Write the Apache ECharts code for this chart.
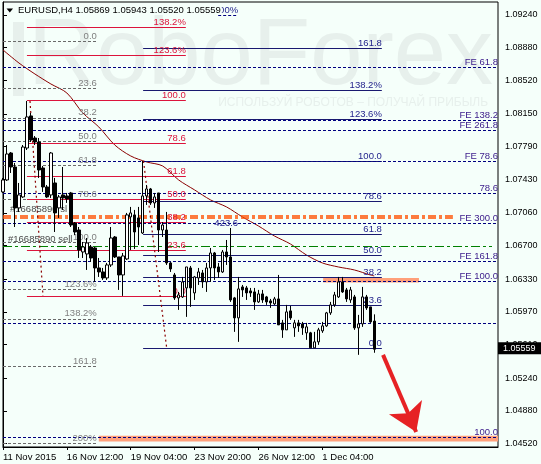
<!DOCTYPE html>
<html><head><meta charset="utf-8">
<script src="https://cdn.jsdelivr.net/npm/echarts@6/dist/echarts.min.js"></script>
<style>html,body{margin:0;padding:0;background:#f5fffa}#c{width:541px;height:464px}</style>
</head><body><div id="c"></div>
<script>
// ---------- data ----------
const xTickLabels = ['11 Nov 2015','16 Nov 12:00','19 Nov 04:00','23 Nov 20:00','26 Nov 12:00','1 Dec 04:00'];
const xTickIndex = [0,16,32,48,64,80];
const yTickValues = [1.09240,1.08880,1.08520,1.08150,1.07790,1.07430,1.07060,1.06700,1.06330,1.05970,1.05610,1.05240,1.04880,1.04520];

const opens = [1.07291,1.07423,1.07720,1.07566,1.07115,1.07236,1.07775,1.08128,1.07885,1.07841,
1.07555,1.07346,1.07258,1.07390,1.07115,1.07258,1.07247,1.07280,1.06949,1.06872,
1.06630,1.06608,1.06685,1.06674,1.06454,1.06410,1.06344,1.06487,1.06795,1.06575,
1.06377,1.06553,1.07016,1.07038,1.07005,1.06839,1.07247,1.07324,1.07170,1.07280,
1.06872,1.06872,1.06509,1.06377,1.06124,1.06135,1.06234,1.06454,1.06179,1.06344,
1.06399,1.06300,1.06454,1.06619,1.06465,1.06410,1.06630,1.06575,1.06124,1.05904,
1.06245,1.06234,1.06201,1.06190,1.06080,1.06168,1.06135,1.06091,1.06058,1.06113,
1.05849,1.05772,1.05981,1.05794,1.05849,1.05838,1.05739,1.05739,1.05574,1.05640,
1.05761,1.05816,1.05959,1.06047,1.06135,1.06300,1.06212,1.06102,1.06135,1.05794,
1.05838,1.06135,1.06025,1.05869];
const closes = [1.07423,1.07709,1.07566,1.07115,1.07258,1.07786,1.08117,1.07863,1.07841,1.07533,
1.07346,1.07236,1.07720,1.07060,1.07236,1.07225,1.07214,1.06927,1.06850,1.06652,
1.06685,1.06729,1.06564,1.06454,1.06410,1.06344,1.06487,1.06784,1.06575,1.06377,
1.06586,1.07038,1.07060,1.06850,1.06905,1.07247,1.07324,1.07170,1.07236,1.06872,
1.06927,1.06509,1.06443,1.06124,1.06157,1.06300,1.06465,1.06234,1.06355,1.06410,
1.06300,1.06454,1.06619,1.06454,1.06410,1.06630,1.06575,1.06102,1.05904,1.06223,
1.06212,1.06179,1.06179,1.06080,1.06168,1.06102,1.06080,1.06069,1.06113,1.05827,
1.05772,1.05970,1.05904,1.05849,1.05816,1.05794,1.05805,1.05574,1.05640,1.05772,
1.05816,1.05959,1.06047,1.06157,1.06300,1.06190,1.06113,1.06212,1.05794,1.05838,
1.06135,1.06014,1.05860,1.05559];
const lows = [1.07280,1.07412,1.07500,1.06905,1.07071,1.07225,1.07753,1.07841,1.07808,1.07445,
1.07291,1.07225,1.07225,1.06850,1.07005,1.07093,1.07170,1.06905,1.06817,1.06564,
1.06564,1.06432,1.06520,1.06300,1.06355,1.06322,1.06322,1.06465,1.06564,1.06212,
1.06146,1.06542,1.06652,1.06663,1.06707,1.06828,1.07148,1.07148,1.07115,1.06630,
1.06795,1.06487,1.06410,1.06102,1.05992,1.06124,1.05915,1.06025,1.06102,1.06267,
1.06234,1.06190,1.06300,1.06322,1.06344,1.06399,1.06487,1.06080,1.05750,1.05640,
1.06135,1.06102,1.06135,1.05992,1.06069,1.06069,1.06047,1.06014,1.06047,1.05827,
1.05684,1.05772,1.05882,1.05695,1.05750,1.05717,1.05662,1.05574,1.05574,1.05607,
1.05739,1.05805,1.05937,1.06025,1.06124,1.06179,1.06080,1.06069,1.05772,1.05497,
1.05805,1.05992,1.05849,1.05520];
const highs = [1.07445,1.07808,1.07731,1.07610,1.07390,1.07808,1.08293,1.08161,1.07907,1.07885,
1.07577,1.07368,1.07731,1.07445,1.07258,1.07566,1.07280,1.07291,1.06960,1.06905,
1.06740,1.06784,1.06707,1.06685,1.06564,1.06454,1.06509,1.06905,1.06806,1.06575,
1.06619,1.07060,1.07126,1.07093,1.07126,1.07632,1.07368,1.07335,1.07280,1.07280,
1.06960,1.07071,1.06520,1.06399,1.06190,1.06355,1.06465,1.06476,1.06366,1.06454,
1.06432,1.06509,1.06674,1.06630,1.06509,1.06652,1.06762,1.06894,1.06135,1.06355,
1.06267,1.06256,1.06234,1.06234,1.06212,1.06212,1.06146,1.06113,1.06135,1.06377,
1.05882,1.06047,1.06036,1.05882,1.05882,1.05860,1.05849,1.05750,1.05750,1.05794,
1.05860,1.05970,1.06080,1.06190,1.06355,1.06355,1.06234,1.06245,1.06157,1.05937,
1.06245,1.06157,1.06025,1.05943];
const lastPrice = 1.05559;

const maIndex = [0,4,8,12,16,20,24,28,32,36,40,44,48,52,56,60,64,68,72,76,80,84,88,92,93];
const maValues = [1.08855,1.08711,1.08590,1.08480,1.08381,1.08161,1.08007,1.07808,1.07687,1.07621,1.07577,1.07423,1.07313,1.07203,1.07126,1.07015,1.06916,1.06806,1.06718,1.06597,1.06509,1.06465,1.06432,1.06377,1.06366];

const grayFibLabels = ['0.0','23.6','38.2','50.0','61.8','78.6','100.0','123.6%','138.2%','161.8','200%'];
const grayFibLevels = [1.08954,1.08432,1.08108,1.07847,1.07588,1.07214,1.06740,1.06218,1.05894,1.05374,1.04526];
const crimsonFibLabels = ['138.2%','123.6%','100.0','78.6','61.8','50.0','38.2','23.6','0.0'];
const crimsonFibLevels = [1.09108,1.08799,1.08296,1.07827,1.07467,1.07210,1.06953,1.06652,1.06145];
const navyFibLabels = ['161.8','138.2%','123.6%','100.0','78.6','61.8','50.0','38.2','23.6','0.0'];
const navyFibLevels = [1.08873,1.08406,1.08091,1.07624,1.07184,1.06828,1.06597,1.06351,1.06046,1.05569];
const feLabels = ['FE 61.8','FE 138.2','FE 261.8','FE 78.6','78.6','FE 300.0','FE 161.8','FE 100.0','','100.0'];
const feLevels = [1.08664,1.08076,1.07974,1.07624,1.07276,1.06946,1.06531,1.06303,1.05845,1.04589];
const slLevels = [1.07032,1.07002];
const slLabel = '#16685890 sl';
const sellLevel = 1.06693;
const sellLabel = '#16685890 sell';
const zoneLevels = [[1.06344,1.06295],[1.04607,1.04543]];
const trendLines = [[[6.76,1.08293],[10.02,1.06146]],[[35.2,1.07632],[41.0,1.05574]]];
const extraLabels = ['200%','423.6'];
const extraLevels = [1.09240,1.06894];
const arrowFrom = [95.2,1.05497];
const arrowTo = [103.5,1.04648];
const header = 'EURUSD,H4 1.05869 1.05943 1.05520 1.05559';

// ---------- layout (index units of bar slots) ----------
const BAR_SLOTS = 125;
const yMin = 1.04482, yMax = 1.09383;
const EXT = {gray:[0,23.5], crimson:[6.0,45.8], navy:[35.1,94.9], full:[0,124], sl:[0,112.7], sell:[0,122.5],
             zones:[[80.2,104.2],[24,124]], extra:[[53.9,58.9],[50,58.9]]};
const FONT = '"Liberation Sans", Arial, sans-serif';
const BG = '#f5fffa';
const WM = '#e7f0ec';

const categories = Array.from({length: BAR_SLOTS}, (_, i) => String(i));

function segs(levels, labels, ext) {
  return levels.map((v, i) => [{coord:[ext[0], v], name: labels[i]}, {coord:[ext[1], v]}]);
}
function levelSeries(data, lineStyle, labelOpt, z) {
  return {
    type:'line', xAxisIndex:1, yAxisIndex:0, data:[], silent:true, z: z || 1,
    markLine:{
      silent:true, symbol:'none', animation:false, emphasis:{disabled:true},
      lineStyle: lineStyle,
      label: Object.assign({show:true, position:'insideEndTop', formatter:'{b}', fontFamily:FONT, fontSize:9.5, distance:[0,0], lineHeight:10}, labelOpt),
      data: data
    }
  };
}

const chart = echarts.init(document.getElementById('c'), null, {renderer:'canvas'});
const option = {
  backgroundColor: BG,
  animation:false,
  grid:{left:3, right:43, top:2, bottom:17, show:true, borderColor:'#000', borderWidth:1, backgroundColor:'transparent'},
  xAxis:[{
    type:'category', data:categories, boundaryGap:false,
    axisLine:{lineStyle:{color:'#000', width:1}},
    axisTick:{show:true, length:3, interval:(idx)=>xTickIndex.indexOf(idx)>=0, lineStyle:{color:'#000'}},
    axisLabel:{interval:(idx)=>xTickIndex.indexOf(idx)>=0, formatter:(v, idx)=>{const k=xTickIndex.indexOf(idx); return k>=0?xTickLabels[k]:'';},
      align:'left', margin:5, color:'#000', fontFamily:FONT, fontSize:9.5},
    splitLine:{show:false}
  },{
    type:'value', min:0, max:BAR_SLOTS-1, show:false
  }],
  yAxis:[{
    type:'value', position:'right', min:yMin, max:yMax, scale:true,
    axisLine:{show:true, lineStyle:{color:'#000'}},
    axisTick:{show:true, length:4, customValues:yTickValues, lineStyle:{color:'#000'}},
    axisLabel:{customValues:yTickValues, formatter:(v)=>v.toFixed(5), margin:7, color:'#000', fontFamily:FONT, fontSize:9},
    splitLine:{show:false}
  }],
  graphic:[
    {type:'rect', z:0, silent:true, shape:{x:13, y:22, width:11, height:74}, style:{fill:WM}},
    {type:'text', z:0, silent:true, style:{text:'RoboForex', x:28, y:58, font:'94px "Liberation Sans", Arial, sans-serif', fill:WM, verticalAlign:'middle'}},
    {type:'text', z:0, silent:true, style:{text:'ИСПОЛЬЗУЙ РОБОТОВ – ПОЛУЧАЙ ПРИБЫЛЬ', x:488, y:103, font:'12px "Liberation Sans", Arial, sans-serif', fill:WM, align:'right', verticalAlign:'middle'}},
    {type:'polygon', z:100, silent:true, shape:{points:[[6.5,8.5],[13,8.5],[9.75,12.5]]}, style:{fill:'#000'}},
    {type:'text', z:100, silent:true, style:{text:header, x:17, y:10, font:'9.5px "Liberation Sans", Arial, sans-serif', fill:'#000', verticalAlign:'middle', backgroundColor:BG, padding:[0,1,0,1]}}
  ],
  series:[
    // zones
    {type:'line', xAxisIndex:1, yAxisIndex:0, data:[], silent:true, z:1,
     markArea:{silent:true, itemStyle:{color:'#ffa07a', opacity:1}, emphasis:{disabled:true},
       data: zoneLevels.map((z, i)=>[{coord:[EXT.zones[i][0], z[0]]},{coord:[EXT.zones[i][1], z[1]]}])}},
    levelSeries(segs(grayFibLevels, grayFibLabels, EXT.gray), {color:'#6a6a6a', width:1, type:[3,2]}, {color:'#808080'}),
    levelSeries(segs(crimsonFibLevels, crimsonFibLabels, EXT.crimson), {color:'#dc143c', width:1, type:'solid'}, {color:'#dc143c'}),
    levelSeries(segs(navyFibLevels, navyFibLabels, EXT.navy), {color:'#191970', width:1, type:'solid'}, {color:'#1e1e8a'}),
    levelSeries(segs(feLevels, feLabels, EXT.full), {color:'#000080', width:1, type:[3,2]}, {color:'#3a1a8a'}),
    levelSeries(extraLevels.map((v, i)=>[
        {coord:[EXT.extra[i][0], v], name:extraLabels[i], lineStyle: i===0 ? {color:'#000080', width:1, type:[3,2]} : {color:'rgba(0,0,0,0)', width:0}},
        {coord:[EXT.extra[i][1], v]}]),
      {color:'#000080', width:1, type:[3,2]}, {color:'#1e1e8a'}),
    // order lines
    levelSeries([
      [{coord:[EXT.sl[0], slLevels[0]], name:slLabel}, {coord:[EXT.sl[1], slLevels[0]]}],
      [{coord:[EXT.sl[0], slLevels[1]], name:''}, {coord:[EXT.sl[1], slLevels[1]]}]
    ], {color:'#ff5000', width:1.6, type:[8,3,3,3]}, {color:'#4a4a4a', position:'insideStartTop', distance:[7,1]}),
    levelSeries([
      [{coord:[EXT.sell[0], sellLevel], name:sellLabel}, {coord:[EXT.sell[1], sellLevel]}]
    ], {color:'#008000', width:1, type:[9,3,3,3]}, {color:'#4a4a4a', position:'insideStartTop', distance:[5,2]}),
    // trend lines
    levelSeries(trendLines.map(t=>[{coord:t[0], name:''},{coord:t[1]}]), {color:'#8b0000', width:1.2, type:[2,3]}, {show:false}),
    // moving average
    {type:'line', xAxisIndex:1, yAxisIndex:0, silent:true, z:3, smooth:0.3, symbol:'none',
     lineStyle:{color:'#8b0000', width:1}, data: maIndex.map((x, i)=>[x, maValues[i]])},
    // candles
    {type:'candlestick', xAxisIndex:0, yAxisIndex:0, silent:true, z:5, barWidth:3,
     itemStyle:{color:'#ffffff', color0:'#000000', borderColor:'#000000', borderColor0:'#000000', borderWidth:1},
     data: opens.map((o, i)=>[o, closes[i], lows[i], highs[i]])},
    // price tag
    {type:'line', xAxisIndex:1, yAxisIndex:0, data:[], silent:true, z:10, clip:false,
     markLine:{silent:true, symbol:'none', animation:false, lineStyle:{color:'rgba(0,0,0,0)', width:0},
       label:{show:true, position:'end', formatter:lastPrice.toFixed(5), backgroundColor:'#000', color:'#fff', fontFamily:FONT, fontSize:9, lineHeight:10, padding:[1,6,1,5], distance:0, offset:[0,-1]},
       data:[[{coord:[EXT.full[0], lastPrice]},{coord:[EXT.full[1], lastPrice]}]]}},
    // arrow
    {type:'line', xAxisIndex:1, yAxisIndex:0, data:[], silent:true, z:12,
     markLine:{silent:true, symbol:['none','arrow'], symbolSize:27, animation:false,
       lineStyle:{color:'#e62224', width:4, type:'solid'}, label:{show:false},
       data:[[{coord:arrowFrom},{coord:arrowTo}]]}}
  ]
};
chart.setOption(option);
</script>
</body></html>
